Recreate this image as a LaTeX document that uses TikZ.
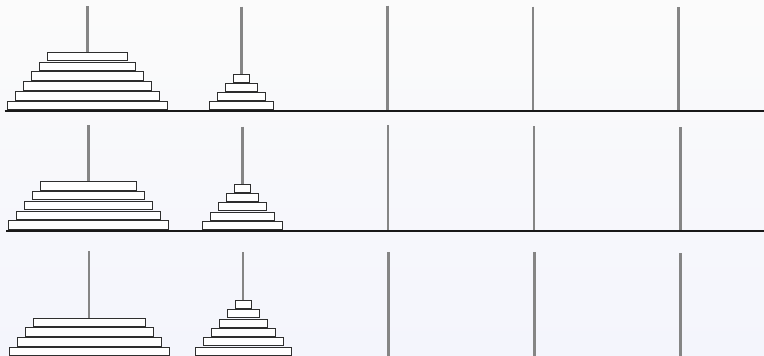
\documentclass[tikz,border=0pt]{standalone}
\definecolor{bgtop}{HTML}{FBFBFB}
\definecolor{bgbot}{HTML}{F4F5FC}
\definecolor{pegcol}{HTML}{858585}
\definecolor{diskline}{HTML}{2E2E2E}
\tikzset{
  pegline/.style={draw=pegcol, line width=2.6pt},
  baseline/.style={draw=black!90, line width=1.8pt},
  disk/.style={draw=diskline, fill=white, line width=1pt}
}
% #1 centre x, #2 top y, #3 bottom y, #4 number of disks, #5 width of top disk
\newcommand\diskstack[5]{%
  \pgfmathsetmacro\pp{(#3-#2)/#4}%
  \foreach \i in {1,...,#4}{%
    \pgfmathsetmacro\yt{#2+(\i-1)*\pp}%
    \pgfmathsetmacro\yb{\yt+\pp-1.2}%
    \pgfmathsetmacro\hw{(#5+16*(\i-1))/2}%
    \draw[disk] (#1-\hw,\yt) rectangle (#1+\hw,\yb);
  }%
}
\begin{document}
\begin{tikzpicture}[x=1pt,y=-1pt]
  \useasboundingbox (0,0) rectangle (764,356);
  \shade[top color=bgtop, bottom color=bgbot] (0,0) rectangle (764,356);
  % ---- row 1 ----
  \foreach \px/\pt/\pb in {87.7/6/52.3, 241.3/6.7/74.3, 387.3/5.7/110, 533/6.7/110, 678.7/7.3/110}
    \draw[pegline] (\px,\pt) -- (\px,\pb);
  \draw[baseline] (4.7,111.3) -- (764,111.3);
  \diskstack{87.6}{52.3}{111.1}{6}{80}
  \diskstack{241.3}{74.3}{110.8}{4}{16}
  % ---- row 2 ----
  \foreach \px/\pt/\pb in {88.3/125.3/181.3, 242.3/126.7/184.3, 388/125/230, 534/126/230, 680.3/127/230}
    \draw[pegline] (\px,\pt) -- (\px,\pb);
  \draw[baseline] (6,231) -- (764,231);
  \diskstack{88.3}{181.3}{230.9}{5}{96}
  \diskstack{242.3}{184.3}{230.5}{5}{16}
  % ---- row 3 ----
  \foreach \px/\pt/\pb in {89/251.3/318.3, 243/252/300.3, 388.3/252.3/356, 534.7/252.3/356, 680.3/253/356}
    \draw[pegline] (\px,\pt) -- (\px,\pb);
  \diskstack{89.3}{318.3}{356.9}{4}{112}
  \diskstack{243}{300.3}{356.5}{6}{16}
\end{tikzpicture}
\end{document}
